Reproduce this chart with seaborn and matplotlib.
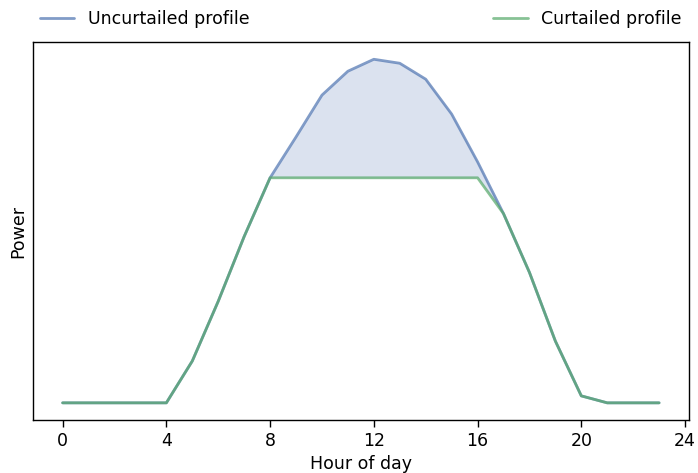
import numpy as np
import pandas as pd
import matplotlib
matplotlib.use("Agg")
import matplotlib.pyplot as plt
import seaborn as sns

# hourly profile (arbitrary units)
hours = list(range(24))
uncurtailed = [0, 0, 0, 0, 0, 42, 102, 167, 226, 267, 309, 333, 345, 341, 325, 290,
               242, 190, 131, 62, 7, 0, 0, 0]
cap = 226
curtailed = [min(v, cap) for v in uncurtailed]

df = pd.DataFrame({"hour": hours, "uncurtailed": uncurtailed, "curtailed": curtailed})

sns.set_theme(style="ticks", palette="deep")
plt.rcParams['font.family'] = ['DejaVu Sans']
plt.rcParams['font.size'] = 12.5
plt.rcParams['text.color'] = 'black'
plt.rcParams['axes.labelcolor'] = 'black'

blue, green = sns.color_palette("deep")[0], sns.color_palette("deep")[2]

fig, ax = plt.subplots(figsize=(6.98, 4.73), dpi=100)
sns.lineplot(data=df, x="hour", y="uncurtailed", ax=ax, color=blue, alpha=0.7,
             lw=2, label="Uncurtailed profile")
sns.lineplot(data=df, x="hour", y="curtailed", ax=ax, color=green, alpha=0.7,
             lw=2, label="Curtailed profile")
ax.fill_between(df["hour"], df["curtailed"], df["uncurtailed"], color=blue, alpha=0.2, lw=0)

ax.set_xticks(range(0, 25, 4))
ax.set_yticks([])
ax.set_xlabel("Hour of day", fontsize=12.5)
ax.set_ylabel("Power", fontsize=12.5)
ax.tick_params(axis="x", labelsize=12.5, length=5, width=1, color="black", labelcolor="black")
for s in ax.spines.values():
    s.set_color("black")
    s.set_linewidth(1)

ax.legend(bbox_to_anchor=(0, 1.02, 1, 0.1), loc="lower left", ncol=2,
          mode="expand", frameon=False, borderaxespad=0, fontsize=12.5)

fig.subplots_adjust(left=0.047, right=0.987, top=0.911, bottom=0.112)
fig.savefig("out.png", dpi=100)
